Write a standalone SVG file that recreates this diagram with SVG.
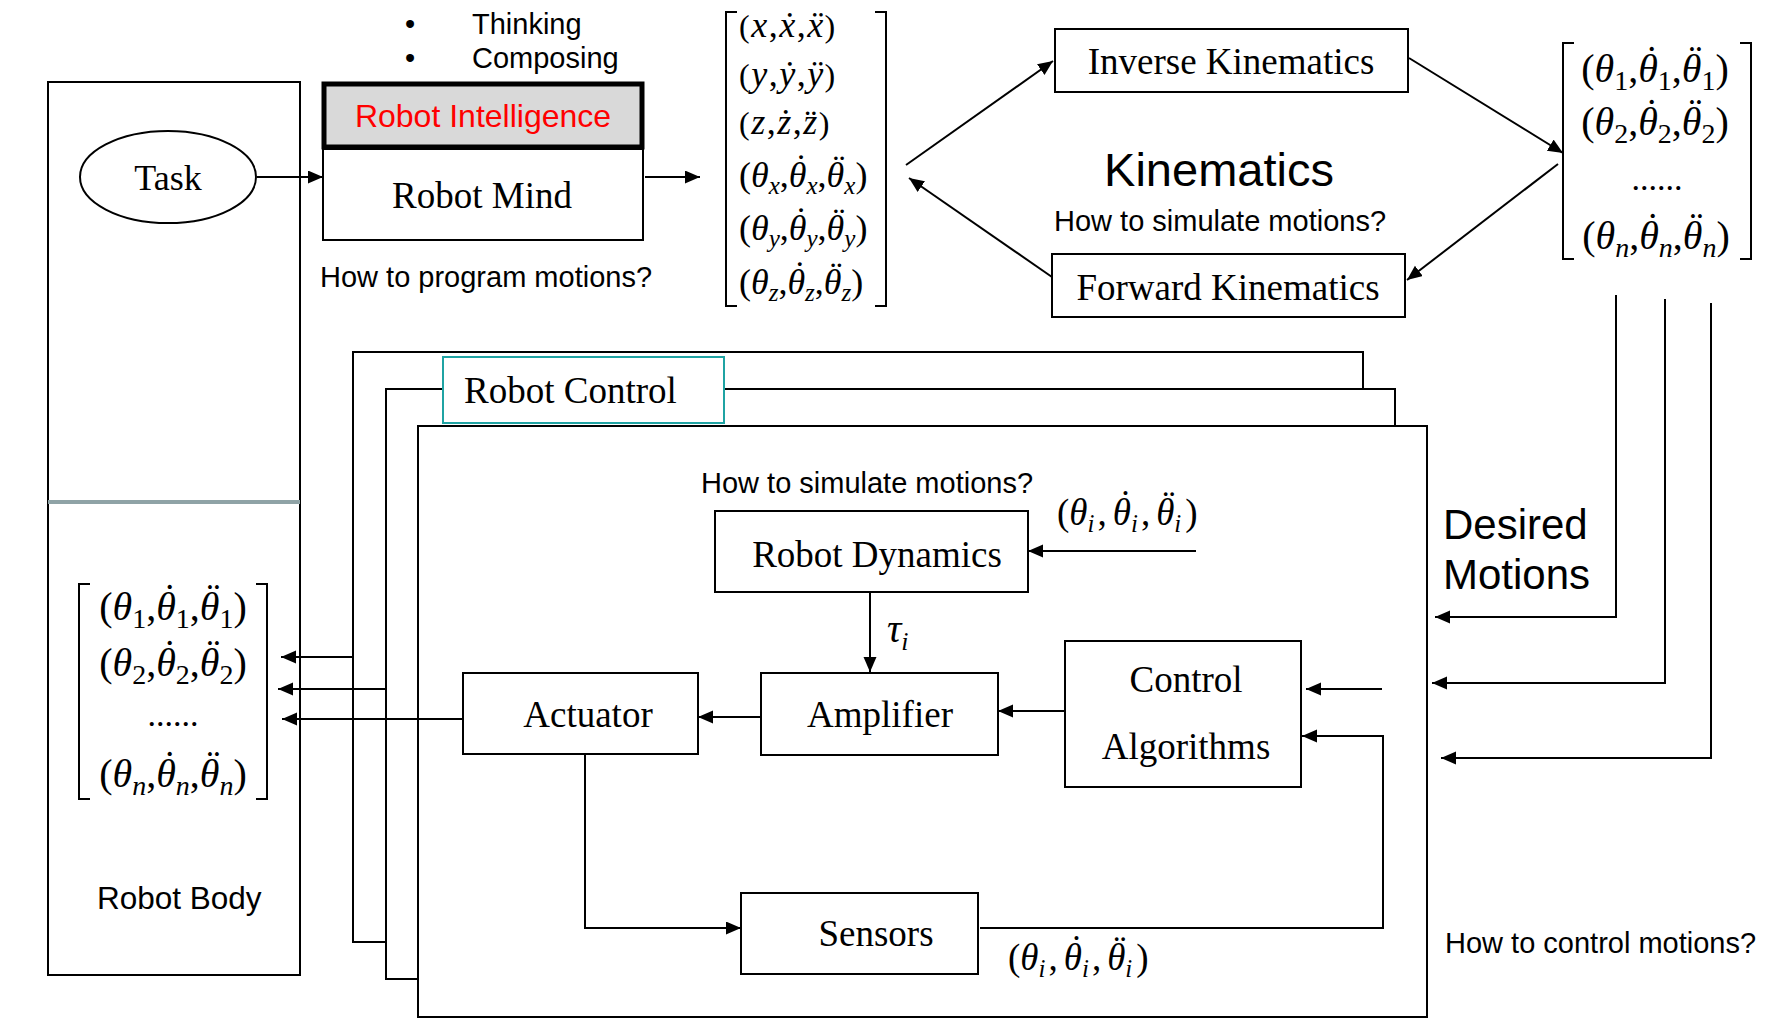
<svg xmlns="http://www.w3.org/2000/svg" width="1765" height="1024" viewBox="0 0 1765 1024">
<style>
.sans{font-family:"Liberation Sans",Arial,sans-serif;fill:#000}
.ser{font-family:"Liberation Serif","Times New Roman",serif;fill:#000}
.box{fill:#fff;stroke:#000;stroke-width:2}
.ln{fill:none;stroke:#000;stroke-width:2}
.m{font-family:"Liberation Serif","Times New Roman",serif;fill:#000}
.i{font-style:italic}
.br{fill:none;stroke:#000;stroke-width:2}
.q{font-size:29px}
.bt{font-size:37px;text-anchor:middle}
</style>
<defs>
<marker id="ah" markerUnits="userSpaceOnUse" markerWidth="16" markerHeight="14" refX="15" refY="6.5" orient="auto"><path d="M0,0 L15,6.5 L0,13 z" fill="#000"/></marker>
</defs>
<rect width="1765" height="1024" fill="#fff"/>

<g id="robot-body">
<rect class="box" x="48" y="82" width="252" height="893"/>
<line x1="48" y1="502" x2="300" y2="502" stroke="#8fa3a6" stroke-width="4"/>
<path class="br" d="M90,584 H79 V799 H90 M256,584 H267 V799 H256"/>
<text class="m" x="173" y="620" font-size="40" text-anchor="middle">(<tspan class="i">θ</tspan><tspan font-size="28" dy="8">1</tspan><tspan dy="-8">,</tspan><tspan class="i">θ</tspan><tspan dx="-12.7" dy="-9">˙</tspan><tspan font-size="28" dx="-0.6" dy="17">1</tspan><tspan dy="-8">,</tspan><tspan class="i">θ</tspan><tspan dx="-12.7" dy="-9">¨</tspan><tspan font-size="28" dx="-0.6" dy="17">1</tspan><tspan dy="-8">)</tspan></text>
<text class="m" x="173" y="676" font-size="40" text-anchor="middle">(<tspan class="i">θ</tspan><tspan font-size="28" dy="8">2</tspan><tspan dy="-8">,</tspan><tspan class="i">θ</tspan><tspan dx="-12.7" dy="-9">˙</tspan><tspan font-size="28" dx="-0.6" dy="17">2</tspan><tspan dy="-8">,</tspan><tspan class="i">θ</tspan><tspan dx="-12.7" dy="-9">¨</tspan><tspan font-size="28" dx="-0.6" dy="17">2</tspan><tspan dy="-8">)</tspan></text>
<text class="m" x="173" y="726" font-size="34" text-anchor="middle">......</text>
<text class="m" x="173" y="787" font-size="40" text-anchor="middle">(<tspan class="i">θ</tspan><tspan class="i" font-size="28" dy="8">n</tspan><tspan dy="-8">,</tspan><tspan class="i">θ</tspan><tspan dx="-12.7" dy="-9">˙</tspan><tspan class="i" font-size="28" dx="-0.6" dy="17">n</tspan><tspan dy="-8">,</tspan><tspan class="i">θ</tspan><tspan dx="-12.7" dy="-9">¨</tspan><tspan class="i" font-size="28" dx="-0.6" dy="17">n</tspan><tspan dy="-8">)</tspan></text>
<text class="sans" x="97" y="909" font-size="31.5">Robot Body</text>
</g>

<g id="task">
<ellipse cx="168" cy="177" rx="88" ry="46" fill="#fff" stroke="#000" stroke-width="2"/>
<text class="ser" x="168" y="190" font-size="36" text-anchor="middle">Task</text>
</g>

<g id="robot-intelligence">
<text class="sans q" x="405" y="34">•</text>
<text class="sans q" x="472" y="34">Thinking</text>
<text class="sans q" x="405" y="68">•</text>
<text class="sans q" x="472" y="68">Composing</text>
<rect x="324" y="84" width="318" height="63" fill="#d9d9d9" stroke="#000" stroke-width="5"/>
<text class="sans" x="483" y="127" font-size="32" text-anchor="middle" style="fill:#ff0000">Robot Intelligence</text>
</g>

<g id="robot-mind">
<rect class="box" x="323" y="149" width="320" height="91"/>
<text class="ser bt" x="482" y="208">Robot Mind</text>
<text class="sans q" x="320" y="287">How to program motions?</text>
</g>

<g id="cartesian-motions">
<path class="br" d="M737,12 H726 V306 H737 M875,12 H886 V306 H875"/>
<text class="m" x="739" y="37" font-size="36" letter-spacing="1.5"><tspan font-size="32">(</tspan><tspan class="i">x</tspan>,<tspan class="i">ẋ</tspan>,<tspan class="i">ẍ</tspan><tspan font-size="32">)</tspan></text>
<text class="m" x="739" y="86" font-size="36" letter-spacing="1.5"><tspan font-size="32">(</tspan><tspan class="i">y</tspan>,<tspan class="i">ẏ</tspan>,<tspan class="i">ÿ</tspan><tspan font-size="32">)</tspan></text>
<text class="m" x="739" y="134" font-size="36" letter-spacing="1.5"><tspan font-size="32">(</tspan><tspan class="i">z</tspan>,<tspan class="i">ż</tspan>,<tspan class="i">z̈</tspan><tspan font-size="32">)</tspan></text>
<text class="m" x="739" y="187" font-size="36">(<tspan class="i">θ</tspan><tspan class="i" font-size="25" dy="7">x</tspan><tspan dy="-7">,</tspan><tspan class="i">θ</tspan><tspan dx="-11.4" dy="-8.5">˙</tspan><tspan class="i" font-size="25" dx="-0.6" dy="15.5">x</tspan><tspan dy="-7">,</tspan><tspan class="i">θ</tspan><tspan dx="-11.4" dy="-8.5">¨</tspan><tspan class="i" font-size="25" dx="-0.6" dy="15.5">x</tspan><tspan dy="-7">)</tspan></text>
<text class="m" x="739" y="240" font-size="36">(<tspan class="i">θ</tspan><tspan class="i" font-size="25" dy="7">y</tspan><tspan dy="-7">,</tspan><tspan class="i">θ</tspan><tspan dx="-11.4" dy="-8.5">˙</tspan><tspan class="i" font-size="25" dx="-0.6" dy="15.5">y</tspan><tspan dy="-7">,</tspan><tspan class="i">θ</tspan><tspan dx="-11.4" dy="-8.5">¨</tspan><tspan class="i" font-size="25" dx="-0.6" dy="15.5">y</tspan><tspan dy="-7">)</tspan></text>
<text class="m" x="739" y="294" font-size="36">(<tspan class="i">θ</tspan><tspan class="i" font-size="25" dy="7">z</tspan><tspan dy="-7">,</tspan><tspan class="i">θ</tspan><tspan dx="-11.4" dy="-8.5">˙</tspan><tspan class="i" font-size="25" dx="-0.6" dy="15.5">z</tspan><tspan dy="-7">,</tspan><tspan class="i">θ</tspan><tspan dx="-11.4" dy="-8.5">¨</tspan><tspan class="i" font-size="25" dx="-0.6" dy="15.5">z</tspan><tspan dy="-7">)</tspan></text>
</g>

<g id="inverse-kinematics">
<rect class="box" x="1055" y="29" width="353" height="63"/>
<text class="ser bt" x="1231" y="74">Inverse Kinematics</text>
</g>

<g id="forward-kinematics">
<rect class="box" x="1052" y="254" width="353" height="63"/>
<text class="ser bt" x="1228" y="300">Forward Kinematics</text>
</g>

<g id="kinematics-label">
<text class="sans" x="1219" y="186" font-size="47" text-anchor="middle">Kinematics</text>
<text class="sans q" x="1054" y="231">How to simulate motions?</text>
</g>

<g id="joint-motions">
<path class="br" d="M1574,43 H1563 V259 H1574 M1740,43 H1751 V259 H1740"/>
<text class="m" x="1655" y="82" font-size="40" text-anchor="middle">(<tspan class="i">θ</tspan><tspan font-size="28" dy="8">1</tspan><tspan dy="-8">,</tspan><tspan class="i">θ</tspan><tspan dx="-12.7" dy="-9">˙</tspan><tspan font-size="28" dx="-0.6" dy="17">1</tspan><tspan dy="-8">,</tspan><tspan class="i">θ</tspan><tspan dx="-12.7" dy="-9">¨</tspan><tspan font-size="28" dx="-0.6" dy="17">1</tspan><tspan dy="-8">)</tspan></text>
<text class="m" x="1655" y="135" font-size="40" text-anchor="middle">(<tspan class="i">θ</tspan><tspan font-size="28" dy="8">2</tspan><tspan dy="-8">,</tspan><tspan class="i">θ</tspan><tspan dx="-12.7" dy="-9">˙</tspan><tspan font-size="28" dx="-0.6" dy="17">2</tspan><tspan dy="-8">,</tspan><tspan class="i">θ</tspan><tspan dx="-12.7" dy="-9">¨</tspan><tspan font-size="28" dx="-0.6" dy="17">2</tspan><tspan dy="-8">)</tspan></text>
<text class="m" x="1657" y="190" font-size="34" text-anchor="middle">......</text>
<text class="m" x="1656" y="249" font-size="40" text-anchor="middle">(<tspan class="i">θ</tspan><tspan class="i" font-size="28" dy="8">n</tspan><tspan dy="-8">,</tspan><tspan class="i">θ</tspan><tspan dx="-12.7" dy="-9">˙</tspan><tspan class="i" font-size="28" dx="-0.6" dy="17">n</tspan><tspan dy="-8">,</tspan><tspan class="i">θ</tspan><tspan dx="-12.7" dy="-9">¨</tspan><tspan class="i" font-size="28" dx="-0.6" dy="17">n</tspan><tspan dy="-8">)</tspan></text>
</g>

<g id="desired-motions">
<text class="sans" x="1443" y="539" font-size="42">Desired</text>
<text class="sans" x="1443" y="589" font-size="42">Motions</text>
<text class="sans q" x="1445" y="953">How to control motions?</text>
</g>

<g id="robot-control">
<rect class="box" x="353" y="352" width="1010" height="590"/>
<rect class="box" x="386" y="389" width="1009" height="590"/>
<rect class="box" x="418" y="426" width="1009" height="591"/>
<rect x="443" y="357" width="281" height="66" fill="#fff" stroke="#1fa3a3" stroke-width="2"/>
<text class="ser" x="464" y="403" font-size="37">Robot Control</text>
<text class="sans q" x="701" y="493">How to simulate motions?</text>
</g>

<g id="robot-dynamics">
<rect class="box" x="715" y="511" width="313" height="81"/>
<text class="ser bt" x="877" y="567">Robot Dynamics</text>
</g>

<g id="amplifier">
<rect class="box" x="761" y="673" width="237" height="82"/>
<text class="ser bt" x="880" y="727">Amplifier</text>
</g>

<g id="actuator">
<rect class="box" x="463" y="673" width="235" height="81"/>
<text class="ser bt" x="588" y="727">Actuator</text>
</g>

<g id="control-algorithms">
<rect class="box" x="1065" y="641" width="236" height="146"/>
<text class="ser bt" x="1186" y="692">Control</text>
<text class="ser bt" x="1186" y="759">Algorithms</text>
</g>

<g id="sensors">
<rect class="box" x="741" y="893" width="237" height="81"/>
<text class="ser bt" x="876" y="946">Sensors</text>
</g>

<g id="connectors">
<path class="ln" marker-end="url(#ah)" d="M257,177 H323"/>
<path class="ln" marker-end="url(#ah)" d="M645,177 H700"/>
<path class="ln" marker-end="url(#ah)" d="M906,165 L1053,61"/>
<path class="ln" marker-end="url(#ah)" d="M1052,277 L909,178"/>
<path class="ln" marker-end="url(#ah)" d="M1409,58 L1563,153"/>
<path class="ln" marker-end="url(#ah)" d="M1558,164 L1407,280"/>
<path class="ln" marker-end="url(#ah)" d="M1616,295 V617 H1435"/>
<path class="ln" marker-end="url(#ah)" d="M1665,299 V683 H1432"/>
<path class="ln" marker-end="url(#ah)" d="M1711,303 V758 H1441"/>
<path class="ln" marker-end="url(#ah)" d="M353,657 H281"/>
<path class="ln" marker-end="url(#ah)" d="M386,689 H278"/>
<path class="ln" marker-end="url(#ah)" d="M463,719 H282"/>
<path class="ln" marker-end="url(#ah)" d="M1196,551 H1028"/>
<path class="ln" marker-end="url(#ah)" d="M870,593 V672"/>
<path class="ln" marker-end="url(#ah)" d="M761,717 H698"/>
<path class="ln" marker-end="url(#ah)" d="M1064,711 H998"/>
<path class="ln" marker-end="url(#ah)" d="M1382,689 H1306"/>
<path class="ln" marker-end="url(#ah)" d="M980,928 H1383 V736 H1302"/>
<path class="ln" marker-end="url(#ah)" d="M585,755 V928 H741"/>
</g>

<g id="connector-labels">
<text class="m" x="1057" y="525" font-size="37">(<tspan class="i">θ</tspan><tspan class="i" font-size="25" dy="7">i</tspan><tspan dy="-7" dx="3">,</tspan><tspan class="i" dx="6">θ</tspan><tspan dx="-11.7" dy="-8.7">˙</tspan><tspan class="i" font-size="25" dx="-0.6" dy="15.7">i</tspan><tspan dy="-7" dx="3">,</tspan><tspan class="i" dx="6">θ</tspan><tspan dx="-11.7" dy="-8.7">¨</tspan><tspan class="i" font-size="25" dx="-0.6" dy="15.7">i</tspan><tspan dy="-7" dx="4">)</tspan></text>
<text class="m" x="1008" y="970" font-size="37">(<tspan class="i">θ</tspan><tspan class="i" font-size="25" dy="7">i</tspan><tspan dy="-7" dx="3">,</tspan><tspan class="i" dx="6">θ</tspan><tspan dx="-11.7" dy="-8.7">˙</tspan><tspan class="i" font-size="25" dx="-0.6" dy="15.7">i</tspan><tspan dy="-7" dx="3">,</tspan><tspan class="i" dx="6">θ</tspan><tspan dx="-11.7" dy="-8.7">¨</tspan><tspan class="i" font-size="25" dx="-0.6" dy="15.7">i</tspan><tspan dy="-7" dx="4">)</tspan></text>
<text class="m" x="887" y="642" font-size="40"><tspan class="i">τ</tspan><tspan class="i" font-size="26" dy="8">i</tspan></text>
</g>
</svg>
